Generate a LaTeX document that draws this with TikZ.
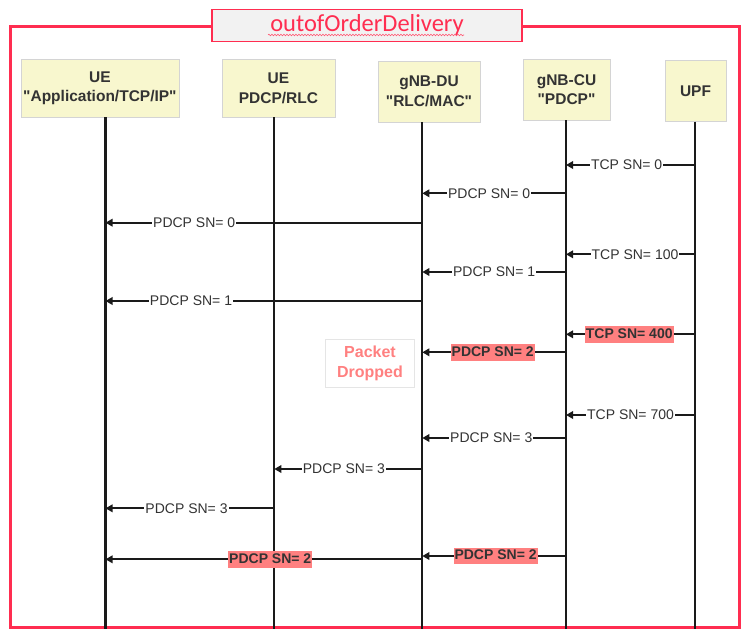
\documentclass[tikz,border=0pt]{standalone}
\usepackage{fontspec}
\setmainfont{Liberation Sans}
\newfontfamily\titlefont{Carlito}
\usetikzlibrary{arrows.meta,decorations.pathmorphing}
\definecolor{framered}{RGB}{255, 45, 80}
\definecolor{headfill}{RGB}{248, 247, 206}
\definecolor{headline}{RGB}{212, 212, 212}
\definecolor{textgray}{RGB}{51, 51, 51}
\definecolor{hotpink}{RGB}{255, 128, 128}
\definecolor{titlefill}{RGB}{242, 242, 242}
\definecolor{lifeblack}{RGB}{26, 26, 26}

\begin{document}
\begin{tikzpicture}[x=1pt, y=-1pt,
  head/.style={fill=headfill, draw=headline, line width=0.8pt, inner sep=0pt, align=center, text=textgray, font=\fontsize{15.5}{19.5}\selectfont\bfseries},
  life/.style={line width=2.3pt, lifeblack},
  msg/.style={-{Triangle[length=7pt, width=7.5pt]}, line width=2.3pt, lifeblack},
  lbl/.style={fill=white, text=textgray, inner sep=1pt, font=\fontsize{14}{16}\selectfont},
  hot/.style={fill=hotpink, text=textgray, inner xsep=1pt, inner ysep=1pt, text height=11pt, text depth=3.5pt, font=\fontsize{14}{16}\selectfont\bfseries},
]
\useasboundingbox (0,0) rectangle (743,629);

% Frame and title
\draw[framered, line width=3pt] (10,26) rectangle (739,627);
\node[fill=titlefill, draw=framered, line width=1.2pt, minimum width=310pt, minimum height=32pt, inner sep=0pt, text=framered, font=\titlefont\fontsize{24.5}{28}\selectfont] (title) at (367,25.3) {outofOrderDelivery};
\draw[framered!80, line width=0.6pt, decorate, decoration={snake, amplitude=0.8pt, segment length=3pt}] (268,35) -- (464,35);

% Lifeline heads
\node[head, minimum width=158pt, minimum height=58pt] (ueapp) at (99.9,88.2) {UE\\\textquotedbl Application/TCP/IP\textquotedbl};
\node[head, minimum width=113pt, minimum height=58pt] (uepdcp) at (278.4,88.3) {UE\\PDCP/RLC};
\node[head, minimum width=102pt, minimum height=61pt] (du) at (429,91.5) {gNB-DU\\\textquotedbl RLC/MAC\textquotedbl};
\node[head, minimum width=87pt, minimum height=60.7pt] (cu) at (566.5,89.7) {gNB-CU\\\textquotedbl PDCP\textquotedbl};
\node[head, minimum width=61pt, minimum height=61.4pt] (upf) at (695.5,91) {UPF};

% Lifelines
\coordinate (ueL) at (105.5,117);
\coordinate (upL) at (274.3,117.3);
\coordinate (duL) at (422.3,122);
\coordinate (cuL) at (566,120);
\coordinate (upfL) at (695,121.7);
\draw[life] (ueL) -- (ueL |- 0,629);
\draw[life] (upL) -- (upL |- 0,629);
\draw[life] (duL) -- (duL |- 0,629);
\draw[life] (cuL) -- (cuL |- 0,629);
\draw[life] (upfL) -- (upfL |- 0,629);

% Messages
\draw[msg] (upfL |- 0,165) -- node[lbl, pos=0.53] (m1) {TCP SN= 0} (cuL |- 0,165);
\draw[msg] (cuL |- 0,193.3) -- node[lbl, pos=0.535] (m2) {PDCP SN= 0} (duL |- 0,193.3);
\draw[msg] (duL |- 0,222.7) -- node[lbl, pos=0.72] (m3) {PDCP SN= 0} (ueL |- 0,222.7);
\draw[msg] (upfL |- 0,254.3) -- node[lbl, pos=0.465] (m4) {TCP SN= 100} (cuL |- 0,254.3);
\draw[msg] (cuL |- 0,272) -- node[lbl, pos=0.5] (m5) {PDCP SN= 1} (duL |- 0,272);
\draw[msg] (duL |- 0,301) -- node[lbl, pos=0.73] (m6) {PDCP SN= 1} (ueL |- 0,301);
\draw[msg] (upfL |- 0,334.3) -- node[hot, pos=0.51] (m7) {TCP SN= 400} (cuL |- 0,334.3);
\draw[msg] (cuL |- 0,352.3) -- node[hot, pos=0.51] (m8) {PDCP SN= 2} (duL |- 0,352.3);
\node[draw=gray!20, line width=0.8pt, minimum width=89pt, minimum height=48pt, inner sep=0pt, align=center, text=hotpink, font=\fontsize{16}{20.5}\selectfont\bfseries] (drop) at (370,363.3) {Packet\\Dropped};
\draw[msg] (upfL |- 0,415) -- node[lbl, pos=0.5] (m10) {TCP SN= 700} (cuL |- 0,415);
\draw[msg] (cuL |- 0,438) -- node[lbl, pos=0.52] (m11) {PDCP SN= 3} (duL |- 0,438);
\draw[msg] (duL |- 0,469) -- node[lbl, pos=0.53] (m12) {PDCP SN= 3} (upL |- 0,469);
\draw[msg] (upL |- 0,508.3) -- node[lbl, pos=0.52] (m13) {PDCP SN= 3} (ueL |- 0,508.3);
\draw[msg] (cuL |- 0,556) -- node[hot, pos=0.49] (m14) {PDCP SN= 2} (duL |- 0,556);
\draw[msg] (duL |- 0,559.3) -- node[hot, pos=0.48] (m15) {PDCP SN= 2} (ueL |- 0,559.3);
\end{tikzpicture}
\end{document}
